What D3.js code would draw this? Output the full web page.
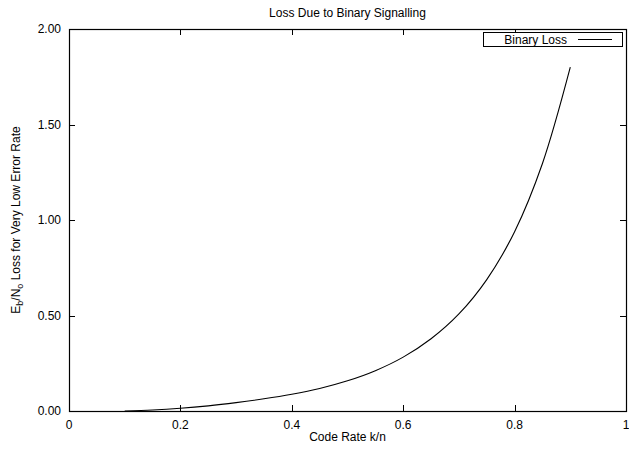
<!DOCTYPE html>
<html><head><meta charset="utf-8">
<script src="https://cdn.jsdelivr.net/npm/d3@7/dist/d3.min.js"></script>
<style>body{margin:0;background:#fff}svg{display:block;font-family:"Liberation Sans",Arial,sans-serif}</style>
</head><body><svg id="c" width="629" height="452"></svg>
<script>
const rates = [0.1,0.15,0.2,0.25,0.3,0.35,0.4,0.45,0.5,0.55,0.6,0.65,0.7,0.75,0.8,0.85,0.9];
const loss  = [0.0,0.005,0.014,0.027,0.044,0.064,0.088,0.118,0.158,0.211,0.282,0.378,0.508,0.688,0.939,1.296,1.80];
const xTicks = [0,0.2,0.4,0.6,0.8,1];
const yTicks = [0,0.5,1.0,1.5,2.0];
const seriesName = "Binary Loss";

const svg = d3.select("#c");
const L=69,R=626,T=29,B=411;
const x = d3.scaleLinear().domain([0,1]).range([L,R]);
const y = d3.scaleLinear().domain([0,2]).range([B,T]);

// ticks (inward, mirrored)
const g = svg.append("g").attr("stroke","#000").attr("stroke-width",1);
xTicks.forEach(v=>{
  const px=Math.round(x(v))+0.5;
  g.append("line").attr("x1",px).attr("x2",px).attr("y1",B).attr("y2",B-6);
  g.append("line").attr("x1",px).attr("x2",px).attr("y1",T).attr("y2",T+6);
});
yTicks.forEach(v=>{
  const py=Math.round(y(v))+0.5;
  g.append("line").attr("x1",L).attr("x2",L+6).attr("y1",py).attr("y2",py);
  g.append("line").attr("x1",R).attr("x2",R-6).attr("y1",py).attr("y2",py);
});
svg.append("rect").attr("x",L+0.5).attr("y",T+0.5).attr("width",R-L).attr("height",B-T)
  .attr("fill","none").attr("stroke","#000").attr("stroke-width",1.2);

// tick labels
svg.append("g").selectAll("text").data(xTicks).join("text")
  .attr("x",d=>x(d)).attr("y",B+18).attr("text-anchor","middle").attr("font-size",12)
  .text(d=>d3.format("")(d));
svg.append("g").selectAll("text").data(yTicks).join("text")
  .attr("x",L-8).attr("y",d=>y(d)+4).attr("text-anchor","end").attr("font-size",12)
  .text(d=>d3.format(".2f")(d));

// title & axis labels
svg.append("text").attr("x",(L+R)/2).attr("y",17).attr("text-anchor","middle").attr("font-size",12)
  .text("Loss Due to Binary Signalling");
svg.append("text").attr("x",(L+R)/2).attr("y",441).attr("text-anchor","middle").attr("font-size",12)
  .text("Code Rate k/n");
const yl = svg.append("text").attr("transform",`translate(20,${(T+B)/2}) rotate(-90)`)
  .attr("text-anchor","middle").attr("font-size",12);
yl.append("tspan").text("E");
yl.append("tspan").attr("font-size",9).attr("dy",3).text("b");
yl.append("tspan").attr("dy",-3).text("/N");
yl.append("tspan").attr("font-size",9).attr("dy",3).text("o");
yl.append("tspan").attr("dy",-3).text(" Loss for Very Low Error Rate");

// curve
const pts = rates.map((r,i)=>[r,loss[i]]);
svg.append("path").datum(pts).attr("fill","none").attr("stroke","#000").attr("stroke-width",1.1)
  .attr("d",d3.line().x(d=>x(d[0])).y(d=>y(d[1])).curve(d3.curveCatmullRom));

// legend
svg.append("rect").attr("x",483.5).attr("y",32.5).attr("width",139).attr("height",14)
  .attr("fill","#fff").attr("stroke","#000").attr("stroke-width",1);
svg.append("text").attr("x",567).attr("y",44).attr("text-anchor","end").attr("font-size",12).text(seriesName);
svg.append("line").attr("x1",578).attr("x2",612).attr("y1",39.5).attr("y2",39.5).attr("stroke","#000").attr("stroke-width",1.1);
</script></body></html>
